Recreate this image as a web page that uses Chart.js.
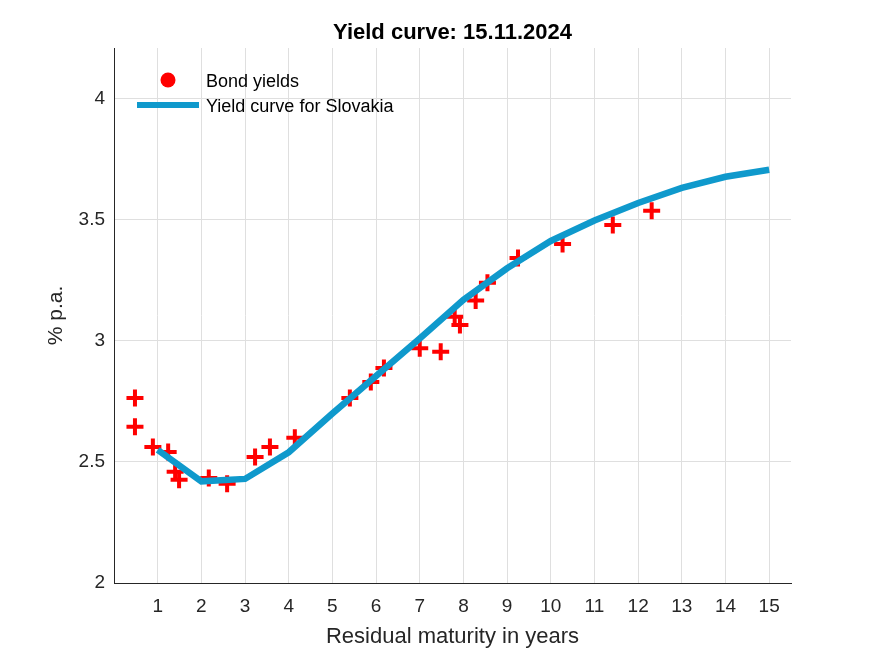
<!DOCTYPE html>
<html>
<head>
<meta charset="utf-8">
<title>Yield curve</title>
<script src="https://cdn.jsdelivr.net/npm/chart.js@4/dist/chart.umd.min.js"></script>
<style>
  html, body { margin: 0; padding: 0; background: #fff; }
  #wrap { width: 875px; height: 656px; position: relative; }
</style>
</head>
<body>
<div id="wrap"><canvas id="chartCanvas" width="875" height="656"></canvas></div>
<script>
const chartTitle = "Yield curve: 15.11.2024"
const xTitle = "Residual maturity in years"
const yTitle = "% p.a."
const legendLabels = ["Bond yields", "Yield curve for Slovakia"]

// bond yields
const bondMaturity = [0.48, 0.48, 0.89, 1.24, 1.40, 1.49, 2.17, 2.59, 3.23, 3.57, 4.14,
    5.40, 5.88, 6.18, 7.00, 7.48, 7.80, 7.92, 8.28, 8.55, 9.25, 10.27, 11.42, 12.31]
const bondYield = [2.764, 2.645, 2.562, 2.541, 2.46, 2.426, 2.434, 2.41, 2.52, 2.562, 2.60,
    2.764, 2.83, 2.888, 2.97, 2.955, 3.10, 3.066, 3.167, 3.24, 3.343, 3.40, 3.479, 3.538]

// fitted curve
const curveMaturity = [1, 2, 3, 4, 5, 6, 7, 8, 9, 10, 11, 12, 13, 14, 15]
const curveYield = [2.55, 2.42, 2.43, 2.54, 2.70, 2.855, 3.01, 3.17, 3.30, 3.413, 3.497, 3.57, 3.632, 3.678, 3.707]

const xTicks = [1, 2, 3, 4, 5, 6, 7, 8, 9, 10, 11, 12, 13, 14, 15]
const yTicks = [2, 2.5, 3, 3.5, 4]

const red = "#ff0000"
const blue = "#0f99cc"
const font = "'Liberation Sans', Arial, sans-serif"

const textPlugin = {
    id: "texts",
    afterDraw(chart){
        const ctx = chart.ctx
        const area = chart.chartArea
        ctx.save()
        // title
        ctx.fillStyle = "#000"
        ctx.font = "bold 22px " + font
        ctx.textAlign = "center"
        ctx.textBaseline = "middle"
        ctx.fillText(chartTitle, (area.left + area.right) / 2, 33)
        // axis titles
        ctx.fillStyle = "#262626"
        ctx.font = "22px " + font
        ctx.fillText(xTitle, (area.left + area.right) / 2, 637)
        ctx.font = "21px " + font
        ctx.translate(56, (area.top + area.bottom) / 2)
        ctx.rotate(-Math.PI / 2)
        ctx.fillText(yTitle, 0, 0)
        ctx.restore()

        // legend
        ctx.save()
        ctx.fillStyle = red
        ctx.beginPath()
        ctx.arc(168, 80, 7.5, 0, Math.PI * 2)
        ctx.fill()
        ctx.strokeStyle = blue
        ctx.lineWidth = 6
        ctx.beginPath()
        ctx.moveTo(137, 105)
        ctx.lineTo(199, 105)
        ctx.stroke()
        ctx.fillStyle = "#000"
        ctx.font = "18px " + font
        ctx.textAlign = "left"
        ctx.textBaseline = "middle"
        ctx.fillText(legendLabels[0], 206, 82)
        ctx.fillText(legendLabels[1], 206, 107)
        ctx.restore()
    }
}

const chart = new Chart(document.querySelector("#chartCanvas"), {
    type: "scatter",
    data: {
        datasets: [
            {
                label: legendLabels[1],
                type: "line",
                data: curveMaturity.map((x, i)=>({x: x, y: curveYield[i]})),
                borderColor: blue,
                borderWidth: 6.5,
                pointRadius: 0,
                tension: 0,
                fill: false,
                order: 0
            },
            {
                label: legendLabels[0],
                data: bondMaturity.map((x, i)=>({x: x, y: bondYield[i]})),
                pointStyle: "cross",
                pointRadius: 8.5,
                borderColor: red,
                backgroundColor: red,
                borderWidth: 4,
                order: 1
            }
        ]
    },
    options: {
        responsive: false,
        animation: false,
        layout: { padding: { left: 0, right: 84, top: 48, bottom: 0 } },
        plugins: {
            legend: { display: false },
            title: { display: false },
            tooltip: { enabled: false }
        },
        scales: {
            x: {
                type: "linear",
                min: 0,
                max: 15.5,
                afterBuildTicks: scale => { scale.ticks = xTicks.map(v=>({value: v})) },
                afterFit: scale => { scale.height = 73 },
                ticks: {
                    color: "#262626",
                    font: { family: font, size: 19 },
                    padding: 12,
                    maxRotation: 0,
                    autoSkip: false,
                    callback: v => String(v)
                },
                grid: { color: "#dfdfdf", drawTicks: false },
                border: { color: "#262626", width: 1 }
            },
            y: {
                type: "linear",
                min: 2,
                max: 4.21,
                afterBuildTicks: scale => { scale.ticks = yTicks.map(v=>({value: v})) },
                afterFit: scale => { scale.width = 114 },
                ticks: {
                    color: "#262626",
                    font: { family: font, size: 19 },
                    padding: 9,
                    callback: v => String(v)
                },
                grid: { color: "#dfdfdf", drawTicks: false },
                border: { color: "#262626", width: 1 }
            }
        }
    },
    plugins: [textPlugin]
})
</script>
</body>
</html>
